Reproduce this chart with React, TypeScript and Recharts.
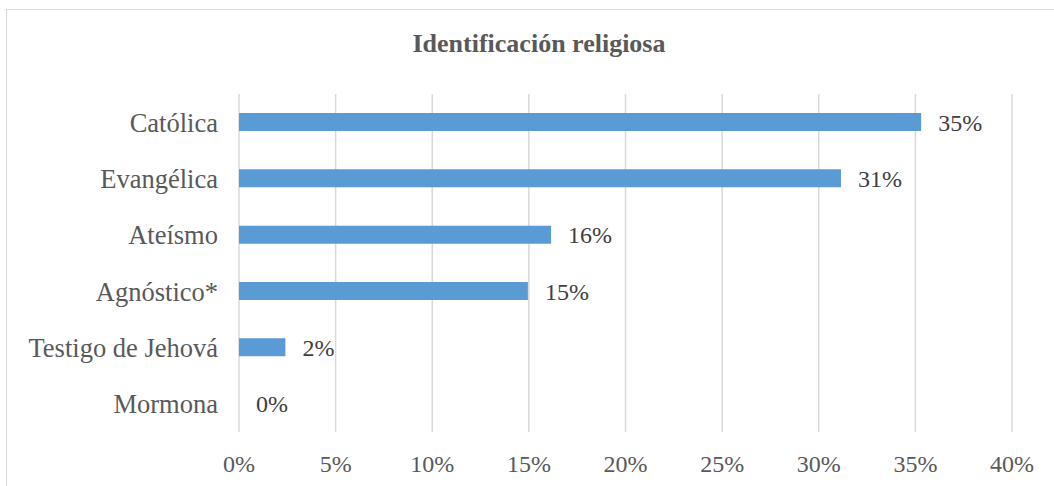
import React from 'react';
import { BarChart, Bar, XAxis, YAxis, CartesianGrid, LabelList } from 'recharts';

const categories = ['Católica', 'Evangélica', 'Ateísmo', 'Agnóstico*', 'Testigo de Jehová', 'Mormona'];
const shares = [35.3, 31.15, 16.15, 14.95, 2.4, 0];
const xTicks = [0, 5, 10, 15, 20, 25, 30, 35, 40];

const data = categories.map((name, i) => ({ name, value: shares[i] }));

const FONT = '"Liberation Serif", "Times New Roman", serif';

const App: React.FC = () => {
  return (
    <div
      style={{
        position: 'absolute',
        left: 0,
        top: 0,
        width: 1054,
        height: 486,
        overflow: 'hidden',
        background: '#fff',
        fontFamily: FONT,
      }}
    >
      {/* chart frame, cropped on the right and bottom like the source */}
      <div
        style={{
          position: 'absolute',
          left: 6,
          top: 9,
          width: 1064,
          height: 500,
          border: '1.5px solid #d9d9d9',
          boxSizing: 'border-box',
        }}
      />
      <div
        style={{
          position: 'absolute',
          left: 7,
          width: 1064,
          top: 30,
          textAlign: 'center',
          fontSize: 26,
          fontWeight: 'bold',
          color: '#595959',
          lineHeight: '28px',
        }}
      >
        Identificación religiosa
      </div>
      <div style={{ position: 'absolute', left: 0, top: 0 }}>
        <BarChart
          width={1054}
          height={486}
          data={data}
          layout="vertical"
          margin={{ top: 94, right: 42, left: 0, bottom: 0 }}
        >
          <CartesianGrid vertical horizontal={false} stroke="#d9d9d9" strokeWidth={1.5} />
          <XAxis
            type="number"
            domain={[0, 40]}
            ticks={xTicks}
            tickFormatter={(v: number) => `${v}%`}
            axisLine={false}
            tickLine={false}
            height={54}
            tickMargin={17}
            interval={0}
            tick={{ fontSize: 24, fill: '#595959', fontFamily: FONT }}
          />
          <YAxis
            type="category"
            dataKey="name"
            width={239}
            axisLine={false}
            tickLine={false}
            tickMargin={15}
            interval={0}
            tick={{ fontSize: 26.5, fill: '#595959', fontFamily: FONT }}
          />
          <Bar
            dataKey="value"
            fill="#5b9bd5"
            barSize={18}
            minPointSize={(v: number) => (v === 0 ? 0.01 : 0)}
            isAnimationActive={false}
          >
            <LabelList
              dataKey="value"
              position="right"
              offset={17}
              formatter={(v: number) => `${Math.round(v)}%`}
              style={{ fontSize: 24, fill: '#404040', fontFamily: FONT }}
            />
          </Bar>
        </BarChart>
      </div>
    </div>
  );
};

export default App;
